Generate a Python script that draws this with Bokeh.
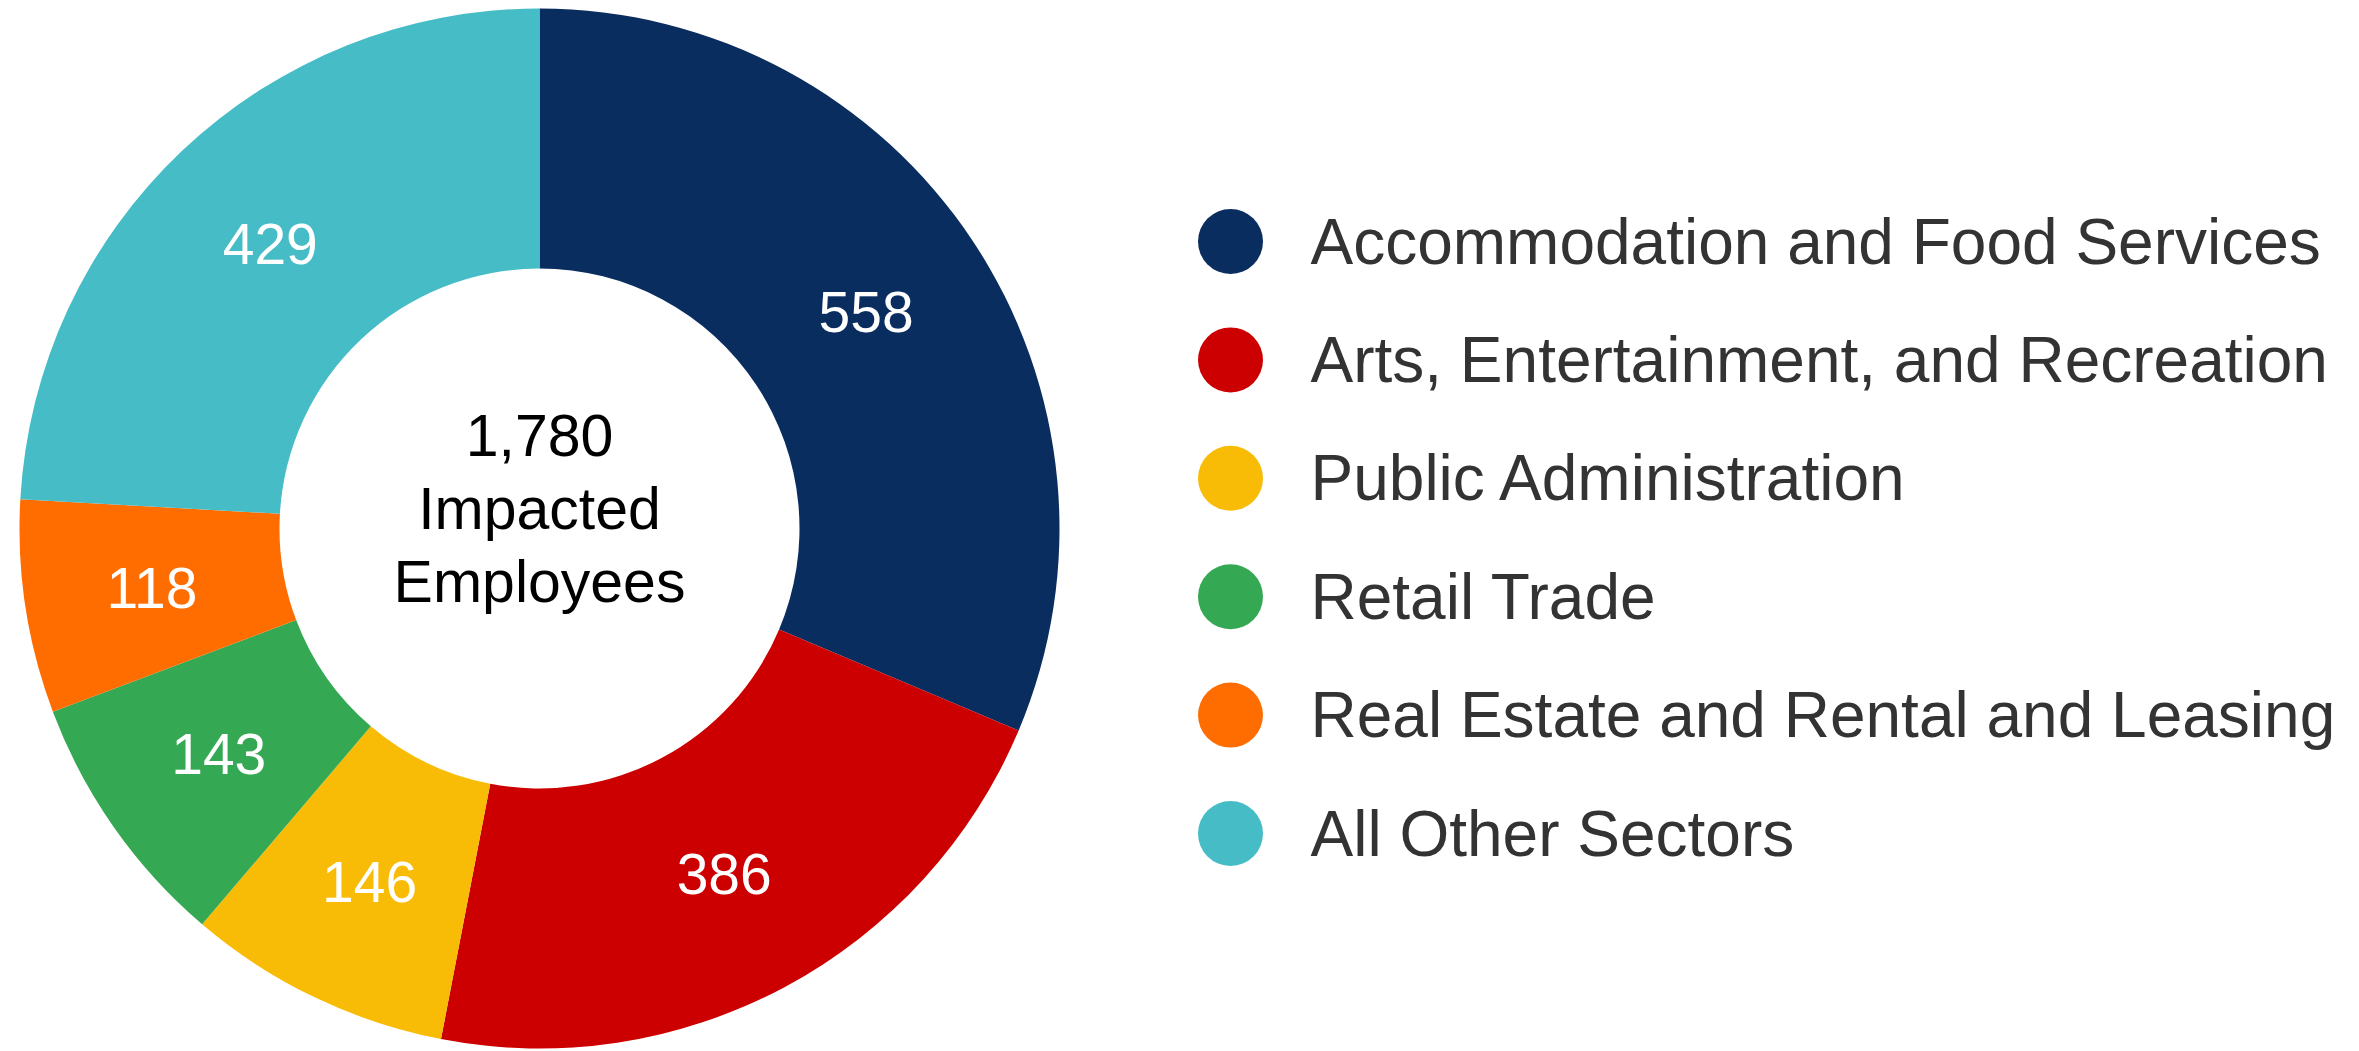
import math
from bokeh.plotting import figure
from bokeh.models import Range1d, ColumnDataSource
from bokeh.core.properties import value
from bokeh.embed import file_html
from bokeh.resources import INLINE

# ---- data ----
categories = [
    "Accommodation and Food Services",
    "Arts, Entertainment, and Recreation",
    "Public Administration",
    "Retail Trade",
    "Real Estate and Rental and Leasing",
    "All Other Sectors",
]
values = [558, 386, 146, 143, 118, 429]
colors = ["#0a2d5f", "#cc0000", "#f9bc06", "#34a853", "#ff6d01", "#46bdc6"]
caption = ["Impacted", "Employees"]

# ---- layout ----
W, H = 2359, 1051
FONT = "Arial"
cx, cy = 539, H - 528
r_out, r_in = 520, 260
r_lab = 392

p = figure(width=W, height=H, x_range=Range1d(0, W), y_range=Range1d(0, H),
           output_backend="svg", toolbar_location=None, min_border=0)
p.axis.visible = False
p.grid.visible = False
p.outline_line_color = None
p.background_fill_color = "white"
p.border_fill_color = "white"

total = sum(values)
starts, ends, lx, ly = [], [], [], []
cum = 0
for v in values:
    a0 = math.pi / 2 - 2 * math.pi * cum / total
    a1 = math.pi / 2 - 2 * math.pi * (cum + v) / total
    starts.append(a0)
    ends.append(a1)
    am = (a0 + a1) / 2
    lx.append(cx + r_lab * math.cos(am))
    ly.append(cy + r_lab * math.sin(am))
    cum += v

src = ColumnDataSource(dict(start=starts, end=ends, color=colors,
                            lx=lx, ly=ly, lab=[str(v) for v in values],
                            cat=categories))

p.annular_wedge(x=cx, y=cy, inner_radius=r_in, outer_radius=r_out,
                start_angle="start", end_angle="end", direction="clock",
                fill_color="color", line_color=None, source=src)

p.text(x="lx", y="ly", text="lab", source=src, text_font=value(FONT),
       text_font_size="57px", text_color="white", text_align="center",
       text_baseline="middle")

# center text
center_lines = [f"{total:,}"] + caption
line_h = 73.5
cys = [cy + 20 + line_h - i * line_h for i in range(len(center_lines))]
p.text(x=[cx] * len(center_lines), y=cys, text=center_lines,
       text_font=value(FONT), text_font_size="59px", text_color="black",
       text_align="center", text_baseline="middle")

# legend
leg_x = 1230
leg_y0 = H - 241
leg_dy = 118.4
leg_ys = [leg_y0 - i * leg_dy for i in range(len(categories))]
p.scatter(x=[leg_x] * len(categories), y=leg_ys, marker="circle", size=65,
          fill_color=colors, line_color=None)
p.text(x=[1310] * len(categories), y=leg_ys, text=categories,
       text_font=value(FONT), text_font_size="64px", text_color="#333333",
       text_align="left", text_baseline="middle")

open("out.html", "w").write(file_html(p, INLINE))
